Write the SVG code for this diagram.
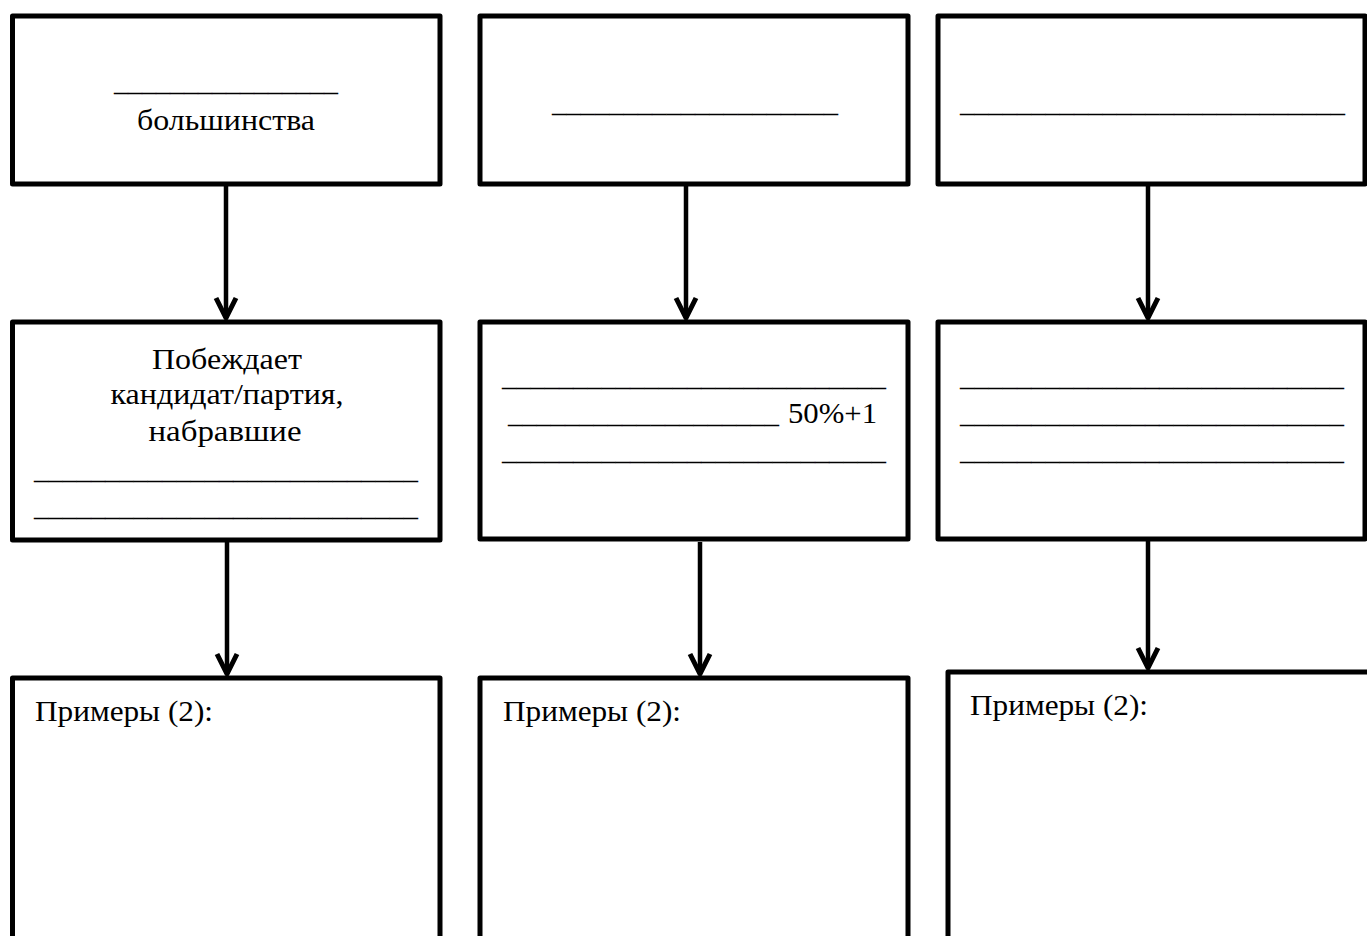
<svg xmlns="http://www.w3.org/2000/svg" width="1367" height="936" viewBox="0 0 1367 936">
<style>
.box{fill:#fff;stroke:#000;stroke-width:5;stroke-linejoin:round}
.t{font-family:"Liberation Serif","Times New Roman",serif;font-size:29px;fill:#000}
.c{text-anchor:middle}
.conn{fill:none;stroke:#000;stroke-width:4.5}
.head{fill:none;stroke:#000;stroke-width:5;stroke-linejoin:round;stroke-linecap:butt}
</style>
<rect width="1367" height="936" fill="#fff"/>
<g id="connectors">
<line class="conn" x1="226" y1="186" x2="226" y2="318"/>
<polyline class="head" points="216,298 226,318 236,298"/>
<line class="conn" x1="686" y1="186" x2="686" y2="318"/>
<polyline class="head" points="676,298 686,318 696,298"/>
<line class="conn" x1="1148" y1="186" x2="1148" y2="318"/>
<polyline class="head" points="1138,298 1148,318 1158,298"/>
<line class="conn" x1="227" y1="542" x2="227" y2="674"/>
<polyline class="head" points="217,654 227,674 237,654"/>
<line class="conn" x1="700" y1="542" x2="700" y2="674"/>
<polyline class="head" points="690,654 700,674 710,654"/>
<line class="conn" x1="1148" y1="540" x2="1148" y2="668"/>
<polyline class="head" points="1138,648 1148,668 1158,648"/>
</g>
<g id="n1">
<rect class="box" x="12.5" y="16" width="427.5" height="168"/>
<text class="t" x="114" y="91" textLength="224" lengthAdjust="spacingAndGlyphs">________________</text>
<text class="t c" x="226" y="130" textLength="178" lengthAdjust="spacingAndGlyphs">большинства</text>
</g>
<g id="n2">
<rect class="box" x="480" y="16" width="428" height="168"/>
<text class="t" x="552" y="112" textLength="286" lengthAdjust="spacingAndGlyphs">____________________</text>
</g>
<g id="n3">
<rect class="box" x="938" y="16" width="427" height="168"/>
<text class="t" x="960" y="112" textLength="385" lengthAdjust="spacingAndGlyphs">___________________________</text>
</g>
<g id="n4">
<rect class="box" x="12.5" y="322" width="427.5" height="218"/>
<text class="t c" x="227" y="369" textLength="150" lengthAdjust="spacingAndGlyphs">Побеждает</text>
<text class="t c" x="227" y="404" textLength="233" lengthAdjust="spacingAndGlyphs">кандидат/партия,</text>
<text class="t c" x="225" y="441" textLength="153" lengthAdjust="spacingAndGlyphs">набравшие</text>
<text class="t" x="34" y="479" textLength="384" lengthAdjust="spacingAndGlyphs">___________________________</text>
<text class="t" x="34" y="516" textLength="384" lengthAdjust="spacingAndGlyphs">___________________________</text>
</g>
<g id="n5">
<rect class="box" x="480" y="322" width="428" height="217"/>
<text class="t" x="502" y="386" textLength="384" lengthAdjust="spacingAndGlyphs">___________________________</text>
<text class="t" x="508" y="423" textLength="271" lengthAdjust="spacingAndGlyphs">___________________</text>
<text class="t" x="788" y="423" textLength="89" lengthAdjust="spacingAndGlyphs">50%+1</text>
<text class="t" x="502" y="460" textLength="384" lengthAdjust="spacingAndGlyphs">___________________________</text>
</g>
<g id="n6">
<rect class="box" x="938" y="322" width="427" height="217"/>
<text class="t" x="960" y="386" textLength="384" lengthAdjust="spacingAndGlyphs">___________________________</text>
<text class="t" x="960" y="423" textLength="384" lengthAdjust="spacingAndGlyphs">___________________________</text>
<text class="t" x="960" y="460" textLength="384" lengthAdjust="spacingAndGlyphs">___________________________</text>
</g>
<g id="n7">
<rect class="box" x="12.5" y="678" width="427.5" height="300"/>
<text class="t" x="35" y="721" textLength="178" lengthAdjust="spacingAndGlyphs">Примеры (2):</text>
</g>
<g id="n8">
<rect class="box" x="480" y="678" width="428" height="300"/>
<text class="t" x="503" y="721" textLength="178" lengthAdjust="spacingAndGlyphs">Примеры (2):</text>
</g>
<g id="n9">
<rect class="box" x="948" y="672" width="460" height="300"/>
<text class="t" x="970" y="715" textLength="178" lengthAdjust="spacingAndGlyphs">Примеры (2):</text>
</g>
</svg>
